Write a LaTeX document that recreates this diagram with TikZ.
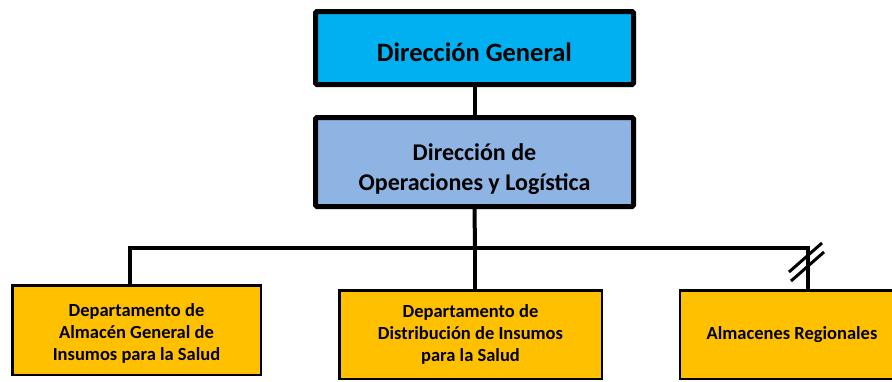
\documentclass[tikz,border=0pt]{standalone}
\usepackage{fontspec}
\setmainfont{Carlito}
\usepackage{xcolor}

\definecolor{cyanDG}{HTML}{00B0F0}
\definecolor{azulDO}{HTML}{8DB4E2}
\definecolor{ambar}{HTML}{FFC000}

\begin{document}
\begin{tikzpicture}[x=1pt, y=-1pt,
    jefe/.style={draw, line width=5pt, rounded corners=1.5pt, align=center, font=\bfseries},
    depto/.style={draw, line width=2.5pt, fill=ambar, align=center,
        font=\fontsize{18.5}{22}\selectfont\bfseries},
    conn/.style={line width=4pt},
    corte/.style={line width=3pt}]

\useasboundingbox (0,0) rectangle (892,381);
\clip (0,0) rectangle (892,381);

% Direcciones
\node[jefe, fill=cyanDG, minimum width=318pt, minimum height=73pt,
    font=\fontsize{26.5}{32}\selectfont\bfseries] (dg) at (474.5,48)
    {\rule{0pt}{27pt}Dirección General};
\node[jefe, fill=azulDO, minimum width=318pt, minimum height=89pt,
    font=\fontsize{24}{30}\selectfont\bfseries] (dol) at (474.5,162)
    {\rule{0pt}{32pt}Dirección de\\Operaciones y Logística};

% Departamentos
\node[depto, minimum width=248.5pt, minimum height=89.5pt] (alm) at (136.5,330)
    {\rule{0pt}{19pt}Departamento de\\Almacén General de\\Insumos para la Salud};
\node[depto, minimum width=262.5pt, minimum height=88.5pt] (dist) at (470.5,334.5)
    {Departamento de\\Distribución de Insumos\\para la Salud};
\node[depto, minimum width=224pt, minimum height=88.5pt] (reg) at (792,334.5)
    {Almacenes Regionales};

% Lineas
\coordinate (busL) at (130,248);
\coordinate (bus) at (475,248);
\coordinate (busR) at (808,248);

\draw[conn] (dg.south) -- (dol.north);
\draw[conn] (dol.south) -- (bus);
\draw[conn] (busL |- alm.north) -- (busL) -- (busR) -- (busR |- reg.north);
\draw[line width=3.5pt] (bus) -- (bus |- dist.north);

% Doble barra
\draw[corte] ([shift={(-19,24)}]busR) -- ++(33,-29);
\draw[corte] ([shift={(-17,33)}]busR) -- ++(33,-29);

\end{tikzpicture}
\end{document}
